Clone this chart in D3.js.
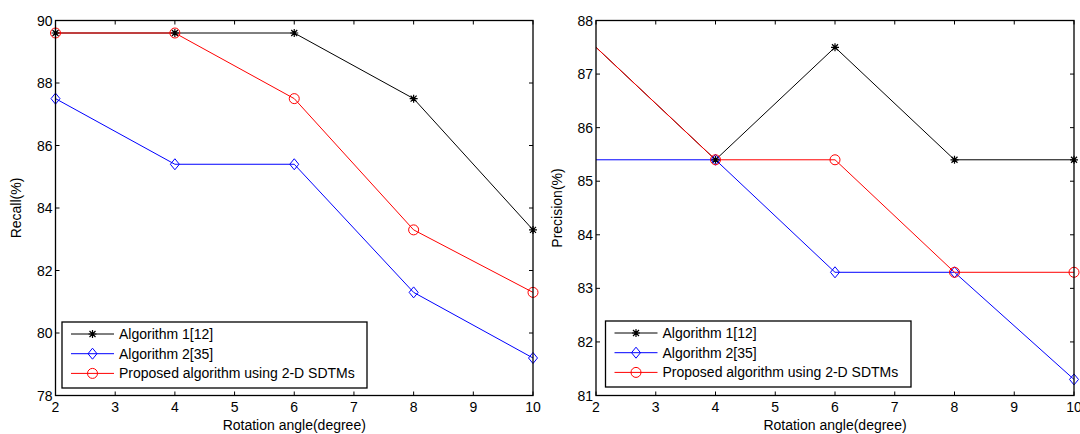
<!DOCTYPE html>
<html><head><meta charset="utf-8">
<script src="https://cdn.jsdelivr.net/npm/d3@7"></script>
<style>body{margin:0;background:#fff}svg{display:block;font-family:"Liberation Sans",Arial,sans-serif}</style>
</head><body>
<svg id="c" width="1080" height="434"></svg>
<script>
const angles = [2, 4, 6, 8, 10];
const seriesNames = ["Algorithm 1[12]", "Algorithm 2[35]", "Proposed algorithm using 2-D SDTMs"];
const recallAlg1 = [89.6, 89.6, 89.6, 87.5, 83.3];
const recallAlg2 = [87.5, 85.4, 85.4, 81.3, 79.2];
const recallProp = [89.6, 89.6, 87.5, 83.3, 81.3];
const precAlg1 = [87.5, 85.4, 87.5, 85.4, 85.4];
const precAlg2 = [85.4, 85.4, 83.3, 83.3, 81.3];
const precProp = [87.5, 85.4, 85.4, 83.3, 83.3];
const xTicks = [2, 3, 4, 5, 6, 7, 8, 9, 10];
const recallTicks = [78, 80, 82, 84, 86, 88, 90];
const precTicks = [81, 82, 83, 84, 85, 86, 87, 88];

const colors = ["#000000", "#0000ff", "#ff0000"];
const markers = ["star", "diamond", "circle"];
const FS = 14;
const svg = d3.select("#c");

function drawMarker(g, type, x, y, color) {
  if (type === "circle") {
    g.append("circle").attr("cx", x).attr("cy", y).attr("r", 5)
      .attr("fill", "none").attr("stroke", color).attr("stroke-width", 1);
  } else if (type === "diamond") {
    g.append("path").attr("d", `M${x},${y-5.5}L${x+4.5},${y}L${x},${y+5.5}L${x-4.5},${y}Z`)
      .attr("fill", "none").attr("stroke", color).attr("stroke-width", 1);
  } else {
    const r = 4, d = 3;
    g.append("path").attr("d",
      `M${x-r},${y}L${x+r},${y}M${x},${y-r}L${x},${y+r}M${x-d},${y-d}L${x+d},${y+d}M${x-d},${y+d}L${x+d},${y-d}`)
      .attr("stroke", color).attr("stroke-width", 1.2).attr("fill", "none");
  }
}

function chart(opt) {
  const {left, right, top, bottom, domain, yTicks, data, ylabel, legend, markerStart} = opt;
  const x = d3.scaleLinear().domain([2, 10]).range([left, right]);
  const y = d3.scaleLinear().domain(domain).range([bottom, top]);
  const g = svg.append("g");
  const tl = 4;
  const tk = g.append("g").attr("stroke", "#000").attr("stroke-width", 1);
  xTicks.forEach(t => {
    tk.append("line").attr("x1", x(t)).attr("x2", x(t)).attr("y1", bottom).attr("y2", bottom - tl);
    tk.append("line").attr("x1", x(t)).attr("x2", x(t)).attr("y1", top).attr("y2", top + tl);
  });
  yTicks.forEach(t => {
    tk.append("line").attr("x1", left).attr("x2", left + tl).attr("y1", y(t)).attr("y2", y(t));
    tk.append("line").attr("x1", right).attr("x2", right - tl).attr("y1", y(t)).attr("y2", y(t));
  });
  xTicks.forEach(t => g.append("text").attr("x", x(t)).attr("y", bottom + 16)
    .attr("text-anchor", "middle").attr("font-size", FS).text(t));
  yTicks.forEach(t => g.append("text").attr("x", left - 3).attr("y", y(t) + 5)
    .attr("text-anchor", "end").attr("font-size", FS).text(t));
  g.append("text").attr("x", (left + right) / 2).attr("y", bottom + 34)
    .attr("text-anchor", "middle").attr("font-size", FS).text("Rotation angle(degree)");
  g.append("text").attr("transform", `translate(${opt.ylabX},${(top + bottom) / 2}) rotate(-90)`)
    .attr("text-anchor", "middle").attr("font-size", FS).text(ylabel);
  const line = d3.line().x((d, i) => x(angles[i])).y(d => y(d));
  data.forEach((s, k) => {
    g.append("path").attr("d", line(s)).attr("fill", "none")
      .attr("stroke", colors[k]).attr("stroke-width", 1);
  });
  data.forEach((s, k) => {
    s.forEach((v, i) => { if (i >= markerStart) drawMarker(g, markers[k], x(angles[i]), y(v), colors[k]); });
  });
  g.append("rect").attr("x", left).attr("y", top).attr("width", right - left).attr("height", bottom - top)
    .attr("fill", "none").attr("stroke", "#000").attr("stroke-width", 1.3);
  const L = legend;
  g.append("rect").attr("x", L.x).attr("y", L.y).attr("width", L.w).attr("height", L.h)
    .attr("fill", "#fff").attr("stroke", "#000").attr("stroke-width", 1.3);
  seriesNames.forEach((n, k) => {
    const ry = L.y + 12 + k * 19.7;
    g.append("line").attr("x1", L.x + 9).attr("x2", L.x + 52).attr("y1", ry).attr("y2", ry)
      .attr("stroke", colors[k]).attr("stroke-width", 1);
    drawMarker(g, markers[k], L.x + 30.5, ry, colors[k]);
    g.append("text").attr("x", L.x + 57).attr("y", ry + 5).attr("font-size", FS).text(n);
  });
}

chart({left: 55.5, right: 533, top: 20.5, bottom: 395.5, domain: [78, 90], yTicks: recallTicks,
  data: [recallAlg1, recallAlg2, recallProp], ylabel: "Recall(%)", ylabX: 21, markerStart: 0,
  legend: {x: 62, y: 322, w: 305, h: 66}});
chart({left: 596, right: 1074, top: 20.5, bottom: 395.5, domain: [81, 88], yTicks: precTicks,
  data: [precAlg1, precAlg2, precProp], ylabel: "Precision(%)", ylabX: 562, markerStart: 1,
  legend: {x: 605.5, y: 321, w: 305.5, h: 66}});
</script>
</body></html>
